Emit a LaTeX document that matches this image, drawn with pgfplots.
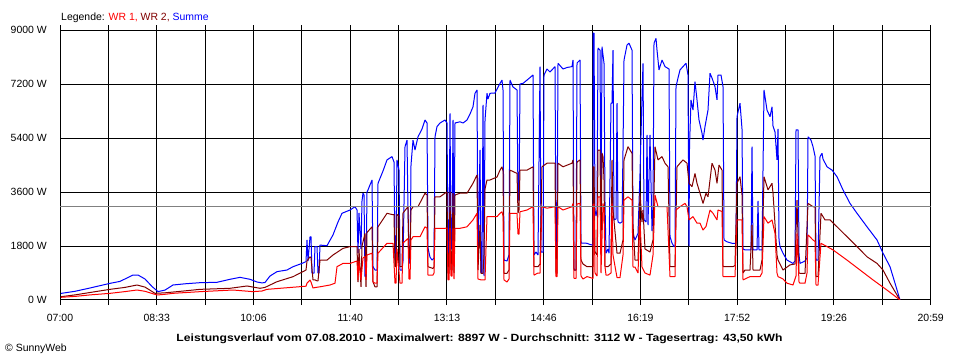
\documentclass[border=0pt]{standalone}
\usepackage{fontspec}
\setmainfont{Liberation Sans}
\usepackage{pgfplots}
\usepackage{pgfplotstable}
\pgfplotsset{compat=1.18}
\definecolor{wrone}{RGB}{255,0,0}
\definecolor{wrtwo}{RGB}{128,0,0}
\definecolor{summe}{RGB}{0,0,255}
\definecolor{avg}{RGB}{128,128,128}

% x = position on the time axis (07:00 = 60, 20:59 = 930.7), y = power in W
\pgfplotstableread{
px W
61 220
75 290
90 400
110 555
120 620
133 833
138 833
145 700
152 450
158 280
165 330
173 500
185 540
200 577
217 590
230 690
240 755
250 690
257 600
262 570
265 583
270 800
277 945
287 1000
293 1110
302 1220
306 1280
307 2000
308 1300
310 2100
311 2110
312 900
314 900
315 1780
317 1780
318 900
319 900
320 1830
327 1810
333 2170
338 2600
342 2890
350 3000
355 3110
357 3000
358 1560
359 2900
361 1700
362 3300
363 3560
364 3500
365 780
366 780
367 3600
368 3670
372 4000
373 1110
375 1000
377 1000
378 3890
383 4300
387 4670
392 4780
394 4600
395 1330
396 1330
397 4670
399 4330
400 1000
402 1000
403 1300
405 5110
407 5330
408 3000
409 1230
410 1230
411 4500
413 5330
415 5000
418 5440
422 5700
425 6000
427 5900
428 1730
430 1430
432 1330
434 1400
435 5440
437 5780
440 5900
445 6000
447 5900
448 1560
449 1560
450 6220
451 1700
452 1700
453 6000
454 1500
455 5900
460 5940
463 5900
467 6000
470 6200
473 6440
475 6890
477 7000
478 1330
480 5000
481 900
482 900
483 6500
484 800
485 6000
487 6890
488 6700
490 6890
495 6900
500 7220
502 7330
503 7000
504 1330
507 1300
509 1500
510 7330
513 7100
517 7000
518 3330
519 3330
520 7200
523 7220
527 7330
533 7500
534 1500
536 1600
538 1500
540 7780
541 1600
543 1600
544 7500
547 7700
550 7600
555 7780
556 1780
557 1780
558 7890
563 7700
567 7750
572 7780
573 8000
574 1000
576 1000
577 7900
580 8000
581 1900
583 1900
587 1890
590 1850
593 1830
593 8897
594 8897
595 3000
596 2800
597 3000
598 8400
600 8330
601 2500
602 8443
604 7890
605 3220
606 1560
608 1700
609 1560
611 6560
612 6560
613 8330
614 2670
616 2700
617 6560
618 2600
620 2560
622 2600
623 5000
624 8000
627 8500
629 8560
632 8330
633 2220
635 2000
638 2220
640 4220
642 6780
643 7890
644 2670
646 2600
647 5500
648 2500
650 5500
652 2300
653 3000
654 8560
656 8720
657 8330
659 7670
662 8000
665 7780
668 7720
669 7700
670 2110
672 1900
674 1780
675 1800
676 7110
678 7400
680 7670
683 7780
686 7890
688 7500
689 1800
689.5 5110
691 6670
693 6330
695 7280
697 6670
699 6000
702 5560
703 5330
705 5780
708 6330
710 7560
712 7400
715 7110
717 6670
718 7500
721 7500
723 7110
724 2000
727 1940
732 1890
736 1890
737 6110
740 6560
742 5700
743 1700
745 1670
750 1670
751 1670
752 5110
753 1670
757 1670
758 3300
759 1670
762 1670
764 7000
767 6330
770 6110
772 6440
773 5800
775 5600
777 4670
778 5700
779 2000
780 1780
783 1560
787 1330
793 1220
795 1300
796 5670
798 5670
799 1500
800 1220
805 1300
807 1400
808 5440
811 5330
813 5110
815 4800
816 1330
818 1330
820 4780
822 4890
823 4700
827 4440
832 4330
837 4110
843 3670
850 3220
857 2890
867 2440
877 2000
883 1560
890 1110
895 560
900 0
}\summetable

\pgfplotstableread{
px W
61 110
75 170
90 250
110 355
125 420
137 500
145 430
155 222
165 240
177 278
200 355
230 390
247 467
260 390
265 420
277 610
293 777
303 945
306 1000
307 1300
310 1440
311 1400
313 670
315 670
317 640
318 640
320 1330
327 1330
333 1500
343 1720
350 1780
357 1780
358 600
359 1700
361 440
362 1800
365 2220
366 440
367 2250
372 2440
373 600
375 440
377 440
378 2440
387 2890
392 2850
394 2850
395 1110
396 1110
397 2850
399 2800
400 1110
402 1110
403 2900
408 3110
409 1400
410 1400
411 3000
413 3110
418 3110
425 3560
427 3500
428 1110
433 1050
434 1110
435 3440
440 3440
445 3560
447 3600
448 890
449 890
450 3600
451 1000
452 1000
453 3560
454 900
455 3500
460 3560
467 3560
473 3890
477 4170
478 1000
480 2500
481 890
483 890
484 1500
485 3700
487 4000
490 4000
497 4100
500 4330
502 4440
503 4300
504 890
507 890
509 1000
510 4330
517 4220
518 2900
519 3000
520 4330
527 4330
533 4440
534 1110
538 1110
540 1200
542 4440
547 4560
555 4560
556 890
557 890
558 4560
563 4440
572 4560
573 4670
574 1000
576 1000
577 4600
580 4670
581 1330
583 1200
587 1110
593 1110
593 4440
594 4440
595 1600
597 1500
598 5000
600 5000
601 1500
602 4900
603 4780
604 4000
605 1110
608 1110
611 1200
612 4670
613 3000
617 1560
620 1560
623 2000
624 4670
628 5110
632 4890
633 2500
635 1330
638 1330
640 3560
642 2600
643 3000
645 1700
650 1600
653 2000
655 5110
658 4670
662 4780
665 4560
668 4440
670 1110
675 1110
677 4440
680 4560
683 4670
687 4560
689 3890
692 3780
695 4220
697 3890
700 3560
703 3220
706 3560
708 3440
712 4560
715 4330
717 3890
719 4500
722 4330
723 1110
733 1110
735 1150
737 3890
740 4110
742 3500
743 900
745 1000
750 1000
752 2500
753 1000
760 1000
762 1330
764 4110
768 3670
772 3890
773 3560
777 1500
778 1330
783 1000
790 1170
795 1200
797 3330
799 900
800 890
805 890
808 3220
813 3110
815 3100
816 780
818 780
821 2890
825 2670
830 2670
837 2440
847 2110
857 1780
867 1440
877 1220
883 1000
890 560
900 0
}\wrtwotable

\pgfplotstableread{
px W
61 90
75 120
90 170
110 222
125 280
137 333
145 290
157 167
165 190
173 222
200 278
233 333
253 278
262 300
267 355
300 444
306 460
307 560
310 667
311 600
313 400
316 420
320 440
330 500
335 560
337 1110
343 1220
350 1220
357 1300
358 670
359 1300
361 670
363 1400
365 1450
366 670
367 1500
372 1560
373 600
375 560
377 560
378 1560
387 1890
393 1890
395 560
396 560
397 1700
400 560
402 560
403 1900
408 2050
409 700
410 700
411 2000
413 2110
420 2110
425 2440
427 2400
428 830
433 830
434 900
435 2390
445 2390
447 2400
448 670
449 670
450 2400
451 800
452 800
453 2390
454 700
455 2390
460 2390
467 2440
473 2670
477 2890
478 700
481 670
485 670
487 2780
490 2780
497 2780
500 2890
502 2940
503 2800
504 670
507 600
509 700
510 2890
517 2890
518 2200
519 2200
520 2940
527 3000
533 3110
534 830
538 900
540 900
542 3110
547 3060
555 3110
556 780
557 780
558 3110
563 3000
572 3110
573 3220
574 720
576 720
577 3200
580 3220
581 800
583 700
587 780
593 720
593 3200
594 3200
595 900
597 800
598 3440
600 3440
601 900
603 3220
604 3000
605 1110
606 830
608 830
611 900
612 3220
613 1500
617 750
620 750
623 1500
624 3330
628 3440
632 3330
633 1100
635 1100
638 900
640 2670
642 1100
645 900
650 830
653 1500
655 3500
658 3110
667 3110
670 780
675 780
676 3000
680 3110
685 3220
687 3110
689 2670
693 2780
697 2560
700 2560
703 2330
706 2450
710 3000
713 2890
717 2670
718 3000
722 2950
723 780
735 780
737 2670
742 2670
743 670
750 780
760 780
762 900
764 2780
768 2560
772 2670
775 2220
777 900
778 780
783 700
787 560
793 500
796 800
797 2220
799 600
800 560
805 560
807 900
808 2170
813 2000
815 1950
816 500
818 500
821 1890
827 1780
833 1670
847 1330
860 1000
873 670
887 330
900 0
}\wronetable

\begin{document}
\begin{tikzpicture}
\useasboundingbox (0,0) rectangle (960bp,360bp);
\begin{axis}[
  at={(60bp,60bp)}, anchor=south west,
  width=870.7bp, height=270bp, scale only axis,
  xmin=60, xmax=930.7, ymin=0, ymax=9000,
  xtick={60,156.74,253.49,350.23,446.98,543.72,640.47,737.21,833.96,930.7},
  xticklabels={07:00,08:33,10:06,11:40,13:13,14:46,16:19,17:52,19:26,20:59},
  minor xtick={108.37,205.11,301.86,398.6,495.35,592.09,688.84,785.58,882.33},
  ytick={0,1800,3600,5400,7200,9000},
  yticklabels={0 W,1800 W,3600 W,5400 W,7200 W,9000 W},
  grid=both,
  major grid style={black, line width=1bp},
  minor grid style={black, line width=1bp},
  axis line style={black, line width=1bp},
  tick align=outside,
  major tick length=5bp, minor tick length=5bp,
  xtick style={black, line width=1bp},
  ytick style={draw=none},
  tick label style={font=\fontsize{10.5}{12}\selectfont},
  xticklabel style={anchor=center, inner sep=0pt, yshift=-13bp},
  yticklabel style={anchor=east, inner sep=0pt, xshift=-8bp},
  every axis plot/.append style={line width=1bp, line join=bevel},
  clip=true,
]
\addplot[summe, no markers] table[x=px, y=W] {\summetable};
\addplot[wrtwo, no markers] table[x=px, y=W] {\wrtwotable};
\addplot[wrone, no markers] table[x=px, y=W] {\wronetable};
\addplot[avg, no markers] coordinates {(60,3112) (930.7,3112)};
\end{axis}
\node[anchor=base west, inner sep=0pt, font=\fontsize{10.5}{12}\selectfont] at (61bp,339bp)
  {Legende: \textcolor{wrone}{WR 1,} \textcolor{wrtwo}{WR 2,} \textcolor{summe}{Summe}};
\node[anchor=center, inner sep=0pt, font=\bfseries\fontsize{10.5}{12}\selectfont] at (479.5bp,21.5bp)
  {\scalebox{1.16}[1]{Leistungsverlauf vom 07.08.2010 - Maximalwert: 8897 W - Durchschnitt: 3112 W - Tagesertrag: 43,50 kWh}};
\node[anchor=west, inner sep=0pt, font=\fontsize{10.5}{12}\selectfont] at (5bp,11bp) {© SunnyWeb};
\end{tikzpicture}
\end{document}
